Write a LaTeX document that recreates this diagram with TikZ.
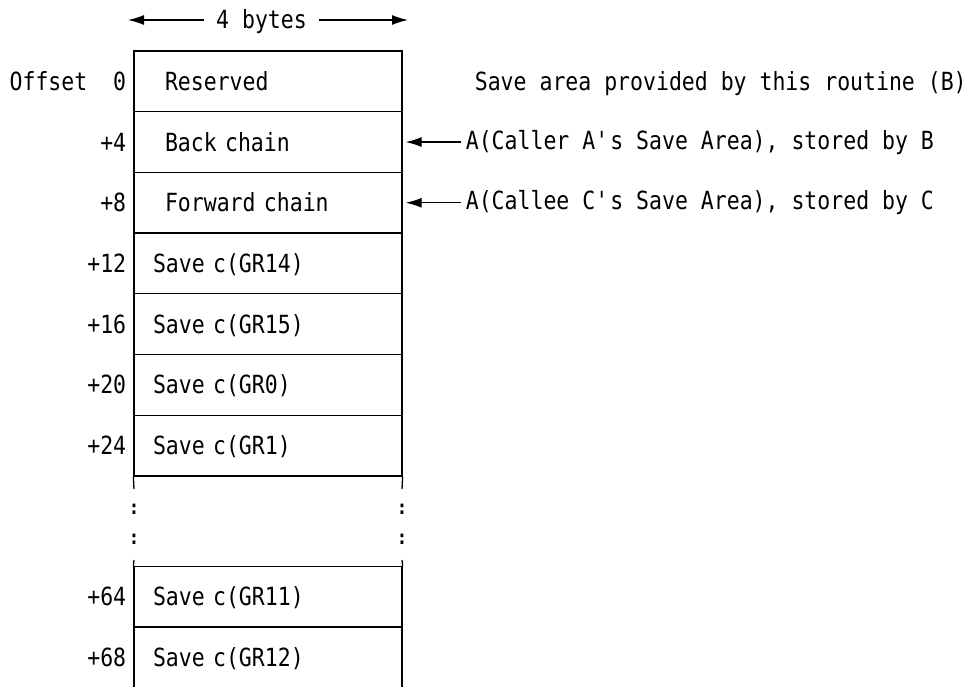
\documentclass[tikz,border=0pt]{standalone}
\usepackage{fontspec}
\setmainfont[FakeStretch=0.86]{DejaVu Sans Mono}
\usetikzlibrary{arrows.meta,calc}
\begin{document}
\begin{tikzpicture}[x=1pt,y=-1pt,
  every node/.style={font=\fontsize{25}{30}\selectfont, inner sep=0pt, text height=18pt, text depth=0pt},
  cell/.style={draw, line width=1.3pt, minimum width=268pt, minimum height=60.7pt, align=left, text width=230pt, inner xsep=19pt},
  cellw/.style={cell, text width=206pt, inner xsep=31pt},
  off/.style={anchor=east},
  note/.style={anchor=west, inner xsep=5pt},
  arr/.style={line width=1.3pt, -{Latex[length=16pt,width=10pt]}},
  stub/.style={line width=1.3pt},
  dotsn/.style={font=\fontsize{20}{22}\selectfont\bfseries, text height=10pt, text depth=0pt}
]
\path[use as bounding box] (0,0) rectangle (974,686);
\clip (0,0) rectangle (974,686);

% 4 bytes
\node[inner xsep=12pt] (tb) at (261.5,19) {4 bytes};
\coordinate (tl) at (128,20);
\coordinate (tr) at (408,20);
\draw[arr] (tb.west |- tl) -- (tl);
\draw[arr] (tb.east |- tr) -- (tr);

% cells
\node[cellw] (r0) at (268,81.35) {Reserved};
\node[cellw] (r1) at (268,142.05) {Back chain};
\node[cellw] (r2) at (268,202.75) {Forward chain};
\node[cell] (r3) at (268,263.45) {Save c(GR14)};
\node[cell] (r4) at (268,324.15) {Save c(GR15)};
\node[cell] (r5) at (268,384.85) {Save c(GR0)};
\node[cell] (r6) at (268,445.55) {Save c(GR1)};
\node[cell] (r7) at (268,596.75) {Save c(GR11)};
\node[cell] (r8) at (268,657.45) {Save c(GR12)};

% stubs around the gap
\coordinate (gl1) at (134,489);
\coordinate (gr1) at (402,489);
\coordinate (gl2) at (134,560);
\coordinate (gr2) at (402,560);
\draw[stub] (r6.south west) -- (gl1);
\draw[stub] (r6.south east) -- (gr1);
\draw[stub] (gl2) -- (r7.north west);
\draw[stub] (gr2) -- (r7.north east);

% dots
\node[dotsn] (d1) at (134,509) {:};
\node[dotsn] (d2) at (134,539) {:};
\node[dotsn] (d3) at (402,509) {:};
\node[dotsn] (d4) at (402,539) {:};

% offsets
\node[off] (o0) at ([xshift=-7pt]r0.west) {Offset~~0};
\node[off] (o1) at ([xshift=-7pt]r1.west) {+4};
\node[off] (o2) at ([xshift=-7pt]r2.west) {+8};
\node[off] (o3) at ([xshift=-7pt]r3.west) {+12};
\node[off] (o4) at ([xshift=-7pt]r4.west) {+16};
\node[off] (o5) at ([xshift=-7pt]r5.west) {+20};
\node[off] (o6) at ([xshift=-7pt]r6.west) {+24};
\node[off] (o7) at ([xshift=-7pt]r7.west) {+64};
\node[off] (o8) at ([xshift=-7pt]r8.west) {+68};

% notes
\node[anchor=west] (n0) at ([xshift=72pt]r0.east) {Save area provided by this routine (B)};
\node[note] (n1) at ([xshift=58pt,yshift=2pt]r1.east) {A(Caller A\textquotesingle s Save Area), stored by B};
\node[note] (n2) at ([xshift=58pt,yshift=2pt]r2.east) {A(Callee C\textquotesingle s Save Area), stored by C};
\draw[arr, shorten >=3pt] (n1.west |- r1.east) -- (r1.east);
\draw[arr, shorten >=3pt] (n2.west |- r2.east) -- (r2.east);
\end{tikzpicture}
\end{document}
